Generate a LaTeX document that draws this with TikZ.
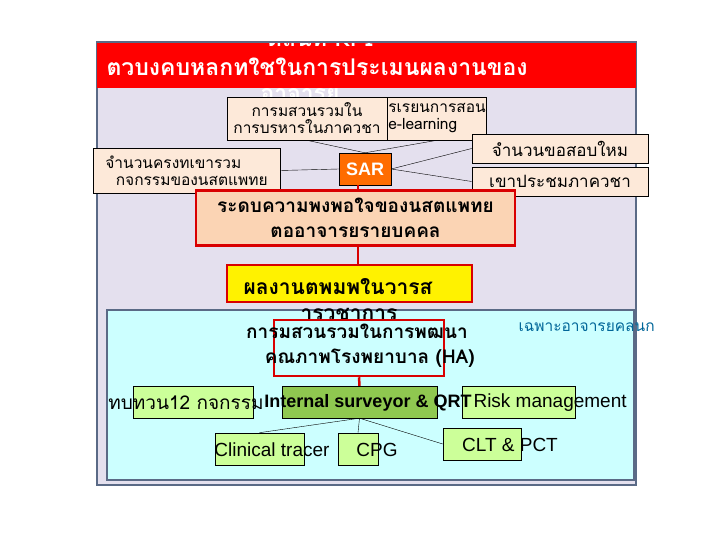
\documentclass[tikz,border=0pt]{standalone}
\usepackage{fontspec}
\setmainfont{Liberation Sans}
\newfontfamily\thai[Script=Thai]{Loma}
\begin{document}
\begin{tikzpicture}[x=1pt,y=-1pt,
 bx/.style={draw=black,fill=peach,line width=0.6pt},
 gb/.style={draw=black,fill=lgreen,line width=0.6pt},
 t/.style={font=\thai\fontsize{15.5}{17}\selectfont,align=left,inner sep=1pt},
 tb/.style={font=\thai\bfseries\fontsize{19}{25}\selectfont,align=center},
 e/.style={font=\fontsize{19}{20}\selectfont}]
\definecolor{peach}{HTML}{FDE9D9}
\definecolor{peach2}{HTML}{FBD4B4}
\definecolor{lav}{HTML}{E4E0EE}
\definecolor{lgreen}{HTML}{CCFF99}
\definecolor{mgreen}{HTML}{8FC850}
\definecolor{frame}{HTML}{5A6A86}
\definecolor{lcyan}{HTML}{CCFFFF}
\useasboundingbox (0,0) rectangle (720,540);
\fill[white] (0,0) rectangle (720,540);
\draw[frame,fill=lav,line width=1.5pt] (97,42) rectangle (636,485);
\fill[red] (97,42) rectangle (636,88);
\node[font=\thai\bfseries\fontsize{23}{24}\selectfont,white] (t0) at (320,38) {ตลนท KPI};
\draw[frame,line width=1.5pt] (97,42) -- (636,42);
\node[font=\thai\bfseries\fontsize{23}{24}\selectfont,white,anchor=west] (t1) at (103,67) {ตวบงคบหลกทใชในการประเมนผลงานของ};
\node[font=\thai\bfseries\fontsize{23}{24}\selectfont,white] (t2) at (300,95) {อาจารย};
% top boxes
\node[bx,minimum width=160,minimum height=43,t,align=center] (b1) at (307,118.5) {การมสวนรวมใน\\การบรหารในภาควชา};
\node[bx,minimum width=98,minimum height=43,t,anchor=west] (b2) at (387,118.5) {รเรยนการสอน\\e-learning};
\node[bx,minimum width=187,minimum height=45,t] (bl) at (186.5,170.5) {จำนวนครงทเขารวม\\ \ \ กจกรรมของนสตแพทย};
\node[bx,minimum width=176,minimum height=29,t,font=\thai\fontsize{17}{18}\selectfont] (r1) at (560,148.5) {จำนวนขอสอบใหม};
\node[bx,minimum width=176,minimum height=29,t,font=\thai\fontsize{17}{18}\selectfont] (r2) at (560,181.5) {เขาประชมภาควชา};
\node[draw=black,fill=orange!85!red,minimum width=52,minimum height=32,text=white,font=\bfseries\fontsize{18}{19}\selectfont] (sar) at (365,169) {SAR};
\draw (b1.south) -- (sar.north);
\draw (b2.south) -- (sar.north);
\draw (bl.east) -- (sar.west);
\draw (r1.west) -- (sar.east);
\draw (r2.west) -- (sar.east);
% satisfaction
\node[draw=red!85!black,fill=peach2,line width=2.5pt,minimum width=319,minimum height=55,tb] (sat) at (355.5,218) {ระดบความพงพอใจของนสตแพทย\\ตออาจารยรายบคคล};
\coordinate (sx) at (358,185);
\draw[red!85!black,line width=2.5pt] (sx) -- (sx |- sat.north);
% cyan region
\draw[frame,fill=lcyan,line width=1.2pt] (107,310) rectangle (634,480);
\node[draw=red!85!black,fill=yellow,line width=2.5pt,minimum width=245,minimum height=37] (pub) at (349.5,283.5) {};
\node[tb,anchor=west,font=\thai\bfseries\fontsize{21}{24}\selectfont] (pubt) at (240,287) {ผลงานตพมพในวารส};
\node[tb,font=\thai\bfseries\fontsize{21}{24}\selectfont] (pubt2) at (349,314) {ารวชาการ};
\draw[red!85!black,line width=2.5pt] (sx |- sat.south) -- (sx |- pub.north);
\node[draw=red!85!black,line width=2.5pt,minimum width=170,minimum height=56] (ha) at (359,348) {};
\node[tb] (hat) at (357,346) {การมสวนรวมในการพฒนา\\ \ \ \ \ คณภาพโรงพยาบาล (HA)};
\node[font=\thai\fontsize{15.5}{17}\selectfont,text=teal!80!blue,anchor=west] (clin) at (515,327) {เฉพาะอาจารยคลนก};
% row
\node[gb,minimum width=120,minimum height=32] (g1) at (193,402) {};
\node[font=\thai\fontsize{19}{20}\selectfont] (g1t) at (186,403) {ทบทวน12 กจกรรม};
\node[draw=black,fill=mgreen,minimum width=155,minimum height=32] (g2) at (359.5,402) {};
\node[gb,minimum width=113,minimum height=32] (g3) at (518.5,402) {};
\node[e,anchor=west] (g3t) at (470,403) {Risk management};
\node[font=\bfseries\fontsize{18}{19}\selectfont] (g2t) at (368,403) {Internal surveyor \& QRT};
\draw[red!85!black,line width=2.5pt] (ha.south) -- (g2.north);
\node[gb,minimum width=89,minimum height=32] (c1) at (259.5,449) {};
\node[gb,minimum width=40,minimum height=32] (c2) at (358,449) {};
\node[gb,minimum width=78,minimum height=32] (c3) at (482,444) {};
\draw (g2.south) -- (c1.north);
\draw (g2.south) -- (c2.north);
\draw (g2.south) -- (c3.west);
\node[e] (c1t) at (272,450) {Clinical tracer};
\node[e] (c2t) at (377,450) {CPG};
\node[e] (c3t) at (510,445) {CLT \& PCT};
\end{tikzpicture}
\end{document}
